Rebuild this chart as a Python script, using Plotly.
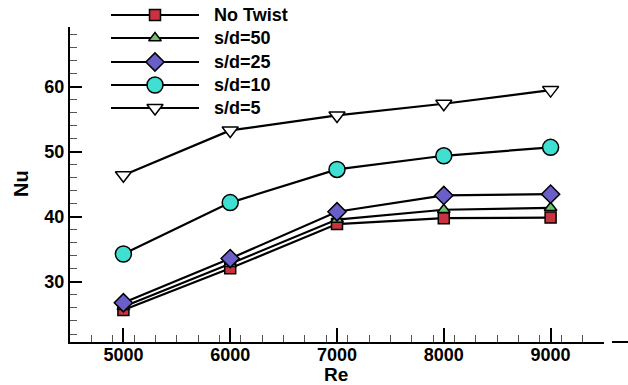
import plotly.graph_objects as go

# ---------------- data ----------------
re_vals = [5000, 6000, 7000, 8000, 9000]
nu_no_twist = [25.7, 32.1, 38.9, 39.8, 39.9]
nu_sd50 = [26.2, 32.8, 39.6, 41.1, 41.4]
nu_sd25 = [26.8, 33.6, 40.8, 43.3, 43.5]
nu_sd10 = [34.3, 42.2, 47.3, 49.4, 50.7]
nu_sd5 = [46.4, 53.3, 55.6, 57.4, 59.5]
series_names = ["No Twist", "s/d=50", "s/d=25", "s/d=10", "s/d=5"]
x_tick_vals = [5000, 6000, 7000, 8000, 9000]
y_tick_vals = [30, 40, 50, 60]
x_title = "Re"
y_title = "Nu"

series_values = [nu_no_twist, nu_sd50, nu_sd25, nu_sd10, nu_sd5]

# ---------------- styles ----------------
symbols = ["square", "triangle-up", "diamond", "circle", "triangle-down"]
colors = ["#c8333f", "#6cc46a", "#6a5fc8", "#3fe0d2", "#ffffff"]
sizes = [11, 11, 14, 16, 14]

FONT = "Liberation Sans, Arial, sans-serif"

# layout geometry (pixels)
W, H = 628, 385
ML, MR, MT, MB = 70, 24, 0, 43
PLOT_H = H - MT - MB          # 342
pw = W - ML - MR
AXIS_TOP_PX = 27              # y-axis line starts here
main_dom_top = (PLOT_H - AXIS_TOP_PX) / PLOT_H


def px_x(p):
    return (p - ML) / pw


def px_y(p):
    return (PLOT_H - p) / PLOT_H


fig = go.Figure()

for name, vals, sym, col, sz in zip(series_names, series_values, symbols, colors, sizes):
    fig.add_trace(go.Scatter(
        x=re_vals, y=vals, name=name, mode="lines+markers",
        line=dict(color="black", width=2.2),
        marker=dict(symbol=sym, color=col, size=sz,
                    line=dict(color="black", width=1.5)),
        showlegend=False, cliponaxis=False,
    ))

# ---------------- custom legend (Tecplot style) ----------------
leg_rows_px = [15, 38, 62, 85, 108]
leg_rows = [px_y(p) for p in leg_rows_px]
leg_x0, leg_xm, leg_x1, leg_tx = px_x(111), px_x(155), px_x(199), px_x(212)
shapes = []
annotations = []
for name, sym, col, sz, yr in zip(series_names, symbols, colors, sizes, leg_rows):
    shapes.append(dict(type="line", xref="paper", yref="paper",
                       x0=leg_x0, x1=leg_x1, y0=yr, y1=yr,
                       line=dict(color="black", width=2.2), layer="below"))
    annotations.append(dict(xref="paper", yref="paper", x=leg_tx, y=yr,
                            text=name, showarrow=False, xanchor="left",
                            yanchor="middle",
                            font=dict(family=FONT, size=18, color="black",
                                      weight="bold")))
    fig.add_trace(go.Scatter(
        x=[leg_xm], y=[yr], mode="markers", xaxis="x2", yaxis="y2",
        marker=dict(symbol=sym, color=col, size=sz,
                    line=dict(color="black", width=1.5)),
        showlegend=False, cliponaxis=False, hoverinfo="skip",
    ))

# axis titles
annotations.append(dict(xref="paper", yref="paper", x=px_x(336), y=px_y(386),
                        text=x_title, showarrow=False, xanchor="center",
                        yanchor="bottom", borderpad=0,
                        font=dict(family=FONT, size=19, color="black", weight="bold")))
annotations.append(dict(xref="paper", yref="paper", x=px_x(21), y=px_y(184),
                        text=y_title, showarrow=False, xanchor="center",
                        yanchor="middle", textangle=-90,
                        font=dict(family=FONT, size=20, color="black", weight="bold")))

# small stray dash at the right end of the x axis
shapes.append(dict(type="line", xref="paper", yref="paper",
                   x0=px_x(612), x1=px_x(628), y0=0, y1=0,
                   line=dict(color="black", width=2)))

axis_common = dict(
    showline=True, linecolor="black", linewidth=2, mirror=False,
    showgrid=False, zeroline=False, automargin=False,
    ticks="inside", tickwidth=2, tickcolor="black",
    tickfont=dict(family=FONT, size=18, color="black", weight="bold"),
)

fig.update_layout(
    width=W, height=H,
    margin=dict(l=ML, r=MR, t=MT, b=MB),
    plot_bgcolor="rgba(0,0,0,0)", paper_bgcolor="white",
    showlegend=False,
    shapes=shapes, annotations=annotations,
    xaxis=dict(
        range=[4500, 9500], tickvals=x_tick_vals, ticklen=14,
        ticklabelstandoff=-5,
        minor=dict(dtick=200, tick0=4500, ticks="inside", ticklen=7,
                   tickwidth=1, tickcolor="#555555"),
        **axis_common,
    ),
    yaxis=dict(
        domain=[0, main_dom_top],
        range=[20.77, 69.2], tickvals=y_tick_vals, ticklen=12,
        minor=dict(dtick=2, tick0=20, ticks="inside", ticklen=7,
                   tickwidth=1, tickcolor="#555555"),
        **axis_common,
    ),
    xaxis2=dict(range=[0, 1], domain=[0, 1], anchor="y2", visible=False),
    yaxis2=dict(range=[0, 1], domain=[0, 1], anchor="x2", visible=False),
)

fig.write_html("out.html")
